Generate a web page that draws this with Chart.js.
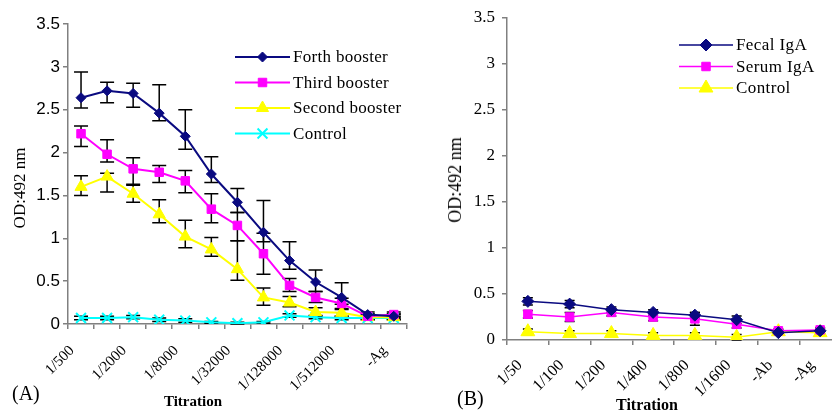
<!DOCTYPE html>
<html><head><meta charset="utf-8">
<script src="https://cdn.jsdelivr.net/npm/chart.js@4/dist/chart.umd.min.js"></script>
<style>
html,body{margin:0;padding:0;background:#fff;overflow:hidden;width:832px;height:410px;position:relative}
#wa{position:absolute;left:0;top:0;width:420px;height:410px}
#wb{position:absolute;left:420px;top:0;width:440px;height:410px}
.t{position:absolute;font-family:"Liberation Serif","Times New Roman",serif;color:#000;white-space:nowrap;line-height:1}
</style></head><body>
<div id="wa"><canvas id="ca" width="420" height="410"></canvas></div>
<div id="wb"><canvas id="cb" width="440" height="410"></canvas></div>
<div class="t" style="left:12px;top:383px;font-size:20px">(A)</div>
<div class="t" style="left:457px;top:388px;font-size:20px">(B)</div>
<div class="t" style="left:193px;top:401px;font-size:15px;font-weight:bold;transform:translate(-50%,-50%)">Titration</div>
<div class="t" style="left:647px;top:405px;font-size:16px;font-weight:bold;transform:translate(-50%,-50%)">Titration</div>
<div class="t" style="left:19px;top:188px;font-size:17px;transform:translate(-50%,-50%) rotate(-90deg)">OD:492 nm</div>
<div class="t" style="left:455px;top:180px;font-size:18px;transform:translate(-50%,-50%) rotate(-90deg)">OD:492 nm</div>
<script>
// ---- Panel A data ----
const categoriesA = ["1/500","1/1000","1/2000","1/4000","1/8000","1/16000","1/32000","1/64000","1/128000","1/256000","1/512000","1/1024000","-Ag"];
const forthBooster  = [2.64,2.72,2.69,2.46,2.19,1.75,1.42,1.07,0.74,0.49,0.31,0.11,0.09];
const forthUp       = [0.30,0.10,0.12,0.33,0.31,0.20,0.16,0.37,0.22,0.14,0.17,0.03,0.03];
const forthDown     = [0.12,0.14,0.16,0.09,0.15,0.10,0.12,0.11,0.10,0.11,0.08,0.03,0.03];
const thirdBooster  = [2.22,1.98,1.81,1.77,1.67,1.34,1.15,0.82,0.45,0.31,0.24,0.09,0.11];
const thirdUp       = [0.09,0.17,0.13,0.08,0.12,0.18,0.15,0.24,0.08,0.07,0.06,0.03,0.03];
const thirdDown     = [0.15,0.09,0.18,0.12,0.14,0.16,0.18,0.24,0.07,0.06,0.06,0.03,0.03];
const secondBooster = [1.60,1.72,1.52,1.28,1.02,0.87,0.64,0.31,0.25,0.14,0.13,0.08,0.08];
const secondUp      = [0.13,0.04,0.10,0.17,0.19,0.14,0.33,0.11,0.07,0.05,0.04,0.03,0.03];
const secondDown    = [0.10,0.18,0.10,0.10,0.13,0.08,0.13,0.09,0.05,0.05,0.04,0.03,0.03];
const controlA      = [0.07,0.07,0.08,0.05,0.04,0.02,0.01,0.02,0.10,0.08,0.07,0.07,0.07];
const controlAErr   = [0.02,0.02,0.02,0.02,0.02,0.01,0.01,0.01,0.02,0.02,0.02,0.02,0.02];
const yTicksA = [0,0.5,1,1.5,2,2.5,3,3.5];

// ---- Panel B data ----
const categoriesB = ["1/50","1/100","1/200","1/400","1/800","1/1600","-Ab","-Ag"];
const fecalIgA   = [0.42,0.39,0.33,0.30,0.27,0.22,0.08,0.10];
const fecalErr   = [0.04,0.04,0.03,0.03,0.03,0.04,0.02,0.03];
const serumIgA   = [0.28,0.25,0.30,0.25,0.23,0.17,0.10,0.11];
const serumErr   = [0.04,0.05,0.04,0.04,0.07,0.04,0.02,0.02];
const controlB   = [0.09,0.07,0.07,0.05,0.05,0.03,0.09,0.08];
const controlBErr= [0.03,0.03,0.03,0.03,0.03,0.03,0.02,0.02];
const yTicksB = [0,0.5,1,1.5,2,2.5,3,3.5];

const NAVY='#0a0a80', MAG='#ff00ff', YEL='#ffff00', CYAN='#00ffff', AXIS='#808080';

const errorBars = {
  id:'errorBars',
  beforeDatasetsDraw(chart, args, opts){
    const ctx=chart.ctx, ys=chart.scales.y;
    chart.data.datasets.forEach((ds,di)=>{
      if(!ds.errUp) return;
      const meta=chart.getDatasetMeta(di);
      ctx.save(); ctx.strokeStyle='#000'; ctx.lineWidth=opts.lw||1.5;
      const w=opts.cap||7;
      meta.data.forEach((pt,i)=>{
        const v=ds.data[i];
        const hi=ys.getPixelForValue(v+ds.errUp[i]);
        const lo=ys.getPixelForValue(Math.max(0,v-ds.errDown[i]));
        ctx.beginPath();
        ctx.moveTo(pt.x,hi); ctx.lineTo(pt.x,lo);
        ctx.moveTo(pt.x-w,hi); ctx.lineTo(pt.x+w,hi);
        ctx.moveTo(pt.x-w,lo); ctx.lineTo(pt.x+w,lo);
        ctx.stroke();
      });
      ctx.restore();
    });
  }
};

const customLegend = {
  id:'customLegend',
  afterDraw(chart, args, o){
    const ctx=chart.ctx;
    ctx.save();
    chart.data.datasets.forEach((ds,i)=>{
      const y=o.y+i*o.dy;
      ctx.strokeStyle=ds.borderColor; ctx.lineWidth=ds.borderWidth;
      ctx.beginPath(); ctx.moveTo(o.x,y); ctx.lineTo(o.x+o.len,y); ctx.stroke();
      ctx.fillStyle=ds.pointBackgroundColor; ctx.strokeStyle=ds.pointBorderColor;
      ctx.lineWidth=ds.pointBorderWidth;
      Chart.helpers.drawPoint(ctx,{pointStyle:ds.pointStyle,radius:ds.pointRadius,borderWidth:ds.pointBorderWidth,rotation:0},o.x+o.len/2,y);
      ctx.fillStyle='#000'; ctx.font=o.font; ctx.textBaseline='middle'; ctx.textAlign='left';
      if('letterSpacing' in ctx) ctx.letterSpacing=o.ls||'0px';
      ctx.fillText(ds.label,o.x+o.len+3,y+1);
    });
    ctx.restore();
  }
};

function ds(label,data,up,down,color,style,r,bw,lw){
  return {label,data,errUp:up,errDown:down,borderColor:color,backgroundColor:color,
    pointBackgroundColor:color,pointBorderColor:color,pointStyle:style,pointRadius:r,
    pointBorderWidth:bw,borderWidth:lw,tension:0,fill:false};
}

function axes(cats,yTicks,tickFont,xFont,yW,xH,labelOffset,skip,xPad,yPad){
  return {
    x:{type:'category',offset:true,
      grid:{display:true,drawOnChartArea:false,drawTicks:true,tickLength:5,color:AXIS,lineWidth:1.5,offset:true},
      border:{display:true,color:AXIS,width:1.5},
      ticks:{autoSkip:false,maxRotation:45,minRotation:45,color:'#000',font:xFont,padding:xPad,labelOffset:labelOffset,
        callback:(v,i)=> (skip && i%2!==0) ? '' : cats[i]},
      afterFit:s=>{s.height=xH;}
    },
    y:{type:'linear',min:0,max:3.5,
      grid:{display:true,drawOnChartArea:false,drawTicks:true,tickLength:5,color:AXIS,lineWidth:1.5},
      border:{display:true,color:AXIS,width:1.5},
      afterBuildTicks:s=>{s.ticks=yTicks.map(v=>({value:v}));},
      ticks:{color:'#000',font:tickFont,padding:yPad,callback:v=>String(v)},
      afterFit:s=>{s.width=yW;}
    }
  };
}

new Chart(document.getElementById('ca'),{
  type:'line',
  data:{labels:categoriesA,datasets:[
    ds('Forth booster',forthBooster,forthUp,forthDown,NAVY,'rectRot',5,1,2),
    ds('Third booster',thirdBooster,thirdUp,thirdDown,MAG,'rect',6,1,2),
    ds('Second booster',secondBooster,secondUp,secondDown,YEL,'triangle',7,1,2),
    ds('Control',controlA,controlAErr,controlAErr,CYAN,'crossRot',7,2,2)
  ]},
  options:{responsive:false,animation:false,devicePixelRatio:1,
    layout:{padding:{left:0,top:24,right:13,bottom:0}},
    plugins:{legend:{display:false},tooltip:{enabled:false},
      errorBars:{lw:1.5,cap:7},
      customLegend:{x:235,y:57,dy:25.5,len:55,font:'17px "Liberation Serif"',ls:'0.3px'}},
    scales:axes(categoriesA,yTicksA,{family:'"Liberation Sans"',size:17},{family:'"Liberation Serif"',size:15},68,86,-9,true,13,3)
  },
  plugins:[errorBars,customLegend]
});

new Chart(document.getElementById('cb'),{
  type:'line',
  data:{labels:categoriesB,datasets:[
    ds('Fecal IgA',fecalIgA,fecalErr,fecalErr,NAVY,'rectRot',6,1,1.5),
    ds('Serum IgA',serumIgA,serumErr,serumErr,MAG,'rect',6,1,1.5),
    ds('Control',controlB,controlBErr,controlBErr,YEL,'triangle',8,1,1.5)
  ]},
  options:{responsive:false,animation:false,devicePixelRatio:1,
    layout:{padding:{left:0,top:18,right:19,bottom:0}},
    plugins:{legend:{display:false},tooltip:{enabled:false},
      errorBars:{lw:1.5,cap:5},
      customLegend:{x:259,y:45,dy:21.5,len:54,font:'17px "Liberation Serif"',ls:'0.4px'}},
    scales:axes(categoriesB,yTicksB,{family:'"Liberation Serif"',size:17},{family:'"Liberation Serif"',size:16},87,70,-8,false,11,7)
  },
  plugins:[errorBars,customLegend]
});
</script>
</body></html>
